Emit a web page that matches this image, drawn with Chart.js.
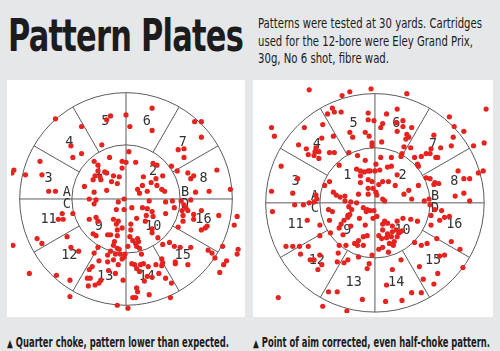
<!DOCTYPE html>
<html>
<head>
<meta charset="utf-8">
<script src="https://cdn.jsdelivr.net/npm/chart.js@4"></script>
<style>
  body { margin: 0; width: 500px; height: 351px; background: #e6e7e9; position: relative; overflow: hidden; }
  .fit { position: absolute; white-space: nowrap; transform-origin: 0 0; color: #1c1c1c; }
  #title { left: 8px; top: 14px; font: bold 44px/44px "DejaVu Sans Condensed", "DejaVu Sans", sans-serif; letter-spacing: -1px; }
  .intro { left: 258px; font: 13.5px/14px "Liberation Sans Narrow", "DejaVu Sans Condensed", sans-serif; }
  .caption { top: 335px; font: bold 13.5px/14px "Liberation Sans Narrow", "DejaVu Sans Condensed", sans-serif; }
  .caption span { font: 11px "DejaVu Sans", sans-serif; }
  .panel { position: absolute; top: 80px; height: 237px; background: #fff; }
  canvas { display: block; }
</style>
</head>
<body>
<div id="title" class="fit">Pattern Plates</div>
<div class="fit intro" style="top:16px" data-w="224">Patterns were tested at 30 yards. Cartridges</div>
<div class="fit intro" style="top:33.5px" data-w="215">used for the 12-bore were Eley Grand Prix,</div>
<div class="fit intro" style="top:51px" data-w="131">30g, No 6 shot, fibre wad.</div>

<div class="panel" style="left:7px;width:238px"><canvas id="leftPlate" width="238" height="237"></canvas></div>
<div class="panel" style="left:253px;width:240px"><canvas id="rightPlate" width="240" height="237"></canvas></div>

<div class="fit caption" style="left:7px" data-w="222"><span>▲</span> Quarter choke, pattern lower than expected.</div>
<div class="fit caption" style="left:253px" data-w="237"><span>▲</span> Point of aim corrected, even half-choke pattern.</div>

<script>
// shot holes, offset from the plate centre (y up)
const leftShots = [
  [27,94],[0,87],[-16,86],[-20,82],[-73,83],[4,75],[27,71],[71,80],[78,80],[-46,75],
  [78,64],[-57,55],[-25,56],[54,51],[60,52],[-46,47],[-55,43],[60,43],[3,49],[-89,39],
  [-33,39],[-17,43],[-4,39],[0,38],[-29,35],[-4,32],[10,38],[28,37],[32,35],[47,34],
  [-116,30],[-118,27],[-104,25],[-87,25],[94,30],[53,29],[64,27],[70,24],[67,21],[-29,29],
  [-22,28],[-20,27],[-32,24],[-27,23],[-34,20],[-26,20],[-13,24],[-7,23],[-15,18],[-9,16],
  [18,23],[38,24],[31,21],[26,17],[32,14],[17,14],[37,10],[40,8],[12,10],[14,6],
  [22,8],[-43,13],[-20,9],[-33,7],[-80,8],[-73,8],[72,7],[86,8],[108,10],[-38,0],
  [-31,-1],[-33,-5],[-2,0],[-8,-3],[24,-2],[41,-3],[48,-2],[57,-2],[67,-1],[60,-6],
  [62,-9],[64,-12],[58,-12],[50,-9],[6,-9],[17,-9],[22,-10],[27,-13],[-2,-11],[-10,-11],
  [28,-18],[21,-17],[11,-20],[41,-15],[70,-16],[70,-21],[78,-12],[59,-17],[59,-23],[96,-17],
  [115,-18],[112,-27],[-66,-15],[-55,-15],[-65,-21],[-70,-21],[-31,-19],[-38,-21],[-29,-23],[-13,-21],
  [-8,-23],[-10,-26],[20,-23],[5,-26],[-4,-30],[-9,-32],[27,-31],[27,-35],[54,-29],[78,-32],
  [82,-30],[84,-28],[5,-32],[33,-40],[-34,-36],[-31,-38],[-19,-37],[-16,-37],[-9,-38],[4,-39],
  [12,-41],[-61,-39],[-92,-41],[-87,-46],[-117,-48],[-12,-44],[-13,-48],[-9,-51],[-7,-52],[7,-43],
  [10,-46],[13,-44],[11,-49],[14,-51],[2,-49],[38,-47],[45,-45],[50,-49],[56,-50],[67,-50],
  [-57,-50],[-49,-54],[-29,-50],[-16,-54],[-11,-57],[-6,-57],[-1,-57],[-2,-60],[16,-57],[-19,-58],
  [-33,-56],[85,-53],[89,-56],[100,-49],[116,-52],[115,-57],[92,-61],[104,-64],[101,-68],[97,-76],
  [37,-62],[38,-66],[51,-65],[51,-67],[64,-68],[-13,-63],[-4,-62],[-8,-68],[-28,-64],[-19,-65],
  [-35,-70],[-18,-74],[-11,-77],[9,-68],[6,-67],[11,-72],[15,-68],[18,-67],[23,-70],[31,-68],
  [37,-69],[34,-77],[-100,-77],[-72,-79],[-58,-84],[-38,-73],[-40,-82],[-37,-82],[-26,-84],[-28,-87],
  [-32,-89],[-39,-90],[-3,-84],[14,-75],[22,-80],[27,-81],[41,-82],[47,-87],[19,-85],[11,-92],
  [12,-96],[7,-102],[10,-102],[24,-99],[46,-102],[-58,-101],[-9,-110],[2,-113]
];

const rightShots = [
  [-68,117],[-34,111],[-26,115],[-4,118],[33,113],[115,97],[-44,98],[-42,94],[-35,94],[-49,92],
  [-7,93],[12,92],[23,97],[-7,86],[-1,85],[8,82],[6,78],[22,83],[29,85],[29,79],
  [38,78],[77,89],[82,79],[92,74],[113,62],[102,59],[-107,78],[-104,69],[-73,78],[-54,81],
  [-55,67],[-43,69],[-26,73],[-23,68],[-10,73],[-6,69],[7,63],[23,74],[33,71],[35,68],
  [32,66],[37,57],[30,58],[61,70],[81,68],[-3,62],[-3,59],[-79,60],[-71,56],[-61,57],
  [-62,53],[-58,53],[-63,49],[-69,50],[-58,46],[-47,52],[-42,52],[-27,52],[-18,49],[-10,44],
  [6,47],[17,47],[28,51],[27,48],[41,47],[48,48],[53,51],[58,56],[57,51],[63,47],
  [65,47],[68,57],[79,59],[86,33],[92,25],[98,25],[107,31],[112,33],[-97,38],[-37,39],
  [-19,35],[-15,33],[-11,32],[-7,33],[-5,33],[0,33],[5,34],[1,40],[13,37],[17,38],
  [23,29],[44,40],[45,38],[53,26],[57,25],[62,21],[66,20],[61,19],[-80,25],[-47,22],
  [-52,18],[-15,28],[-7,24],[-3,22],[-15,21],[8,22],[14,22],[4,19],[21,18],[45,18],
  [35,13],[30,9],[-7,15],[-2,15],[1,11],[2,8],[-7,9],[-17,9],[-43,11],[-40,8],
  [-36,6],[-31,7],[-31,2],[-25,1],[-19,0],[-107,12],[-85,10],[-83,-2],[-74,-2],[-68,0],
  [-61,8],[-60,4],[-63,1],[8,4],[10,2],[38,4],[51,2],[56,4],[57,-2],[83,7],
  [92,10],[98,2],[-106,-9],[-48,-7],[-44,-9],[-27,-4],[-24,-7],[-12,-5],[-8,-7],[-5,-8],
  [-1,-8],[-9,-9],[-26,-12],[-28,-13],[-28,-15],[-16,-16],[-2,-16],[2,-14],[10,-19],[8,-22],
  [13,-21],[18,-24],[23,-19],[29,-16],[37,-17],[44,-19],[58,-13],[67,-18],[72,-15],[77,-14],
  [69,-8],[62,-7],[58,-23],[-70,-18],[-47,-18],[-32,-18],[-35,-22],[-37,-26],[-57,-23],[-46,-31],
  [-33,-33],[-25,-24],[-10,-23],[8,-28],[13,-32],[18,-30],[22,-28],[25,-31],[28,-29],[23,-35],
  [17,-35],[12,-36],[7,-37],[4,-34],[20,-40],[19,-44],[15,-42],[8,-46],[4,-48],[14,-51],
  [-8,-34],[-12,-35],[-17,-39],[-21,-42],[-18,-44],[-12,-44],[-30,-44],[-37,-44],[-57,-34],[-69,-45],
  [-78,-45],[-85,-45],[-92,-45],[-77,-53],[-57,-54],[-67,-59],[-63,-59],[-55,-64],[-59,-69],[-38,-52],
  [-28,-59],[-32,-62],[-39,-61],[-17,-56],[-8,-68],[-6,-63],[-3,-54],[27,-59],[41,-41],[48,-44],
  [54,-42],[64,-37],[79,-40],[88,-48],[67,-55],[72,-54],[46,-66],[65,-73],[91,-67],[50,-79],
  [61,-84],[18,-69],[12,-85],[38,-93],[48,-93],[28,-101],[11,-102],[-48,-92],[-39,-92],[-13,-100],
  [-100,-98],[-54,-107],[-29,-112]
];

// ring numbers, going anticlockwise from 15 degrees in 30 degree steps
const outerSectors = ['8','7','6','5','4','3','11','12','13','14','15','16'];
// inner quadrants, anticlockwise from 45 degrees
const innerSectors = ['2','1','9','10'];
// letters where the horizontal line meets the inner circle
const edgeLetters = ['A','B','C','D'];

const platePlugin = {
  id: 'plate',
  beforeDatasetsDraw(chart, args, opts) {
    const {ctx, scales: {x, y}} = chart;
    const cx = x.getPixelForValue(0);
    const cy = y.getPixelForValue(0);
    const rIn = x.getPixelForValue(opts.inner) - cx;
    const rOut = x.getPixelForValue(opts.outer) - cx;
    ctx.save();
    ctx.strokeStyle = '#5b5b5b';
    ctx.lineWidth = 1;
    [rIn, rOut].forEach(r => {
      ctx.beginPath();
      ctx.arc(cx, cy, r, 0, Math.PI * 2);
      ctx.stroke();
    });
    // spokes: the cross goes through the centre, the others only across the ring
    for (let a = 0; a < 360; a += 30) {
      const t = a * Math.PI / 180;
      const r0 = a % 90 === 0 ? 0 : rIn;
      ctx.beginPath();
      ctx.moveTo(cx + r0 * Math.cos(t), cy - r0 * Math.sin(t));
      ctx.lineTo(cx + rOut * Math.cos(t), cy - rOut * Math.sin(t));
      ctx.stroke();
    }
    ctx.fillStyle = '#333';
    ctx.font = '13.5px "DejaVu Sans Mono", monospace';
    ctx.textAlign = 'center';
    ctx.textBaseline = 'middle';
    const mid = (rIn + rOut) / 2;
    outerSectors.forEach((s, i) => {
      const t = (15 + 30 * i) * Math.PI / 180;
      ctx.fillText(s, cx + mid * Math.cos(t), cy - mid * Math.sin(t));
    });
    innerSectors.forEach((s, i) => {
      const t = (45 + 90 * i) * Math.PI / 180;
      const r = rIn * 0.71;
      ctx.fillText(s, cx + r * Math.cos(t), cy - r * Math.sin(t));
    });
    const off = rIn + 5;
    const spots = [[-off, -6], [off, -6], [-off, 6], [off, 6]];
    edgeLetters.forEach((s, i) => ctx.fillText(s, cx + spots[i][0], cy + spots[i][1]));
    ctx.restore();
  }
};

function plateChart(id, shots, inner, outer, xr, yr) {
  return new Chart(document.getElementById(id), {
    type: 'scatter',
    data: {
      datasets: [{
        data: shots.map(([sx, sy]) => ({x: sx, y: sy})),
        backgroundColor: '#e5231f',
        borderWidth: 0,
        pointRadius: 2.6
      }]
    },
    options: {
      responsive: false,
      animation: false,
      events: [],
      layout: { padding: 0 },
      plugins: {
        legend: { display: false },
        tooltip: { enabled: false },
        plate: { inner: inner, outer: outer }
      },
      scales: {
        x: { type: 'linear', display: false, min: xr[0], max: xr[1] },
        y: { type: 'linear', display: false, min: yr[0], max: yr[1] }
      }
    },
    plugins: [platePlugin]
  });
}

plateChart('leftPlate', leftShots, 56, 110, [-119, 119], [-118, 119]);
plateChart('rightPlate', rightShots, 57, 113, [-122, 118], [-114, 123]);

// squeeze the text blocks to the widths in the print
function fit(el, w) {
  const r = w / el.getBoundingClientRect().width;
  el.style.transform = `scaleX(${r})`;
}
fit(document.getElementById('title'), 235);
document.querySelectorAll('[data-w]').forEach(el => fit(el, +el.dataset.w));
</script>
</body>
</html>
